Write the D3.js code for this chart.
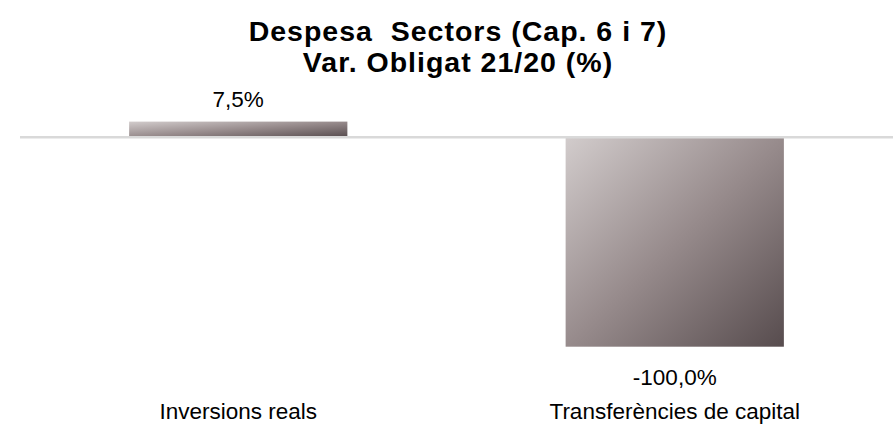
<!DOCTYPE html>
<html>
<head>
<meta charset="utf-8">
<script src="https://cdn.jsdelivr.net/npm/d3@7"></script>
<style>
  body { margin: 0; background: #fff; }
  svg { display: block; font-family: "Liberation Sans", Arial, sans-serif; }
</style>
</head>
<body>
<svg id="chart" width="893" height="428"></svg>
<script>
"use strict";

// Chart data
var categories = ["Inversions reals", "Transferències de capital"];
var values = [7.5, -100.0];
var title_lines = ["Despesa  Sectors (Cap. 6 i 7)", "Var. Obligat 21/20 (%)"];

var svg = d3.select("#chart");

// Gradient used by the bars (light top-left to dark bottom-right)
var defs = svg.append("defs");
var grad = defs.append("linearGradient")
    .attr("id", "bar-grad")
    .attr("x1", 0).attr("y1", 0)
    .attr("x2", 1).attr("y2", 1);
grad.append("stop").attr("offset", "0%").attr("stop-color", "#d2cccc");
grad.append("stop").attr("offset", "50%").attr("stop-color", "#978b8c");
grad.append("stop").attr("offset", "100%").attr("stop-color", "#574c4e");

var x = d3.scaleBand()
    .domain(categories)
    .range([20, 893])
    .paddingInner(0.5)
    .paddingOuter(0.25);

var y = d3.scaleLinear()
    .domain([-100, 0])
    .range([346.7, 137.3]);

// Title: one text block, two lines (keeps the double space of the original)
var title_x = 458;
svg.append("text")
    .attr("x", title_x)
    .attr("y", 41)
    .attr("text-anchor", "middle")
    .style("font-size", "28.5px")
    .style("font-weight", "bold")
    .style("letter-spacing", "1px")
    .style("white-space", "pre")
    .attr("fill", "#000")
    .selectAll("tspan")
    .data(title_lines)
    .join("tspan")
    .attr("x", title_x)
    .attr("dy", function(d, i) { return i === 0 ? 0 : 31; })
    .text(function(d) { return d; });

var data = categories.map(function(c, i) { return { cat: c, value: values[i] }; });

// Bars
svg.append("g").selectAll("rect")
    .data(data)
    .join("rect")
    .attr("x", function(d) { return x(d.cat); })
    .attr("width", x.bandwidth())
    .attr("y", function(d) { return y(Math.max(0, d.value)); })
    .attr("height", function(d) { return Math.abs(y(d.value) - y(0)); })
    .attr("fill", "url(#bar-grad)");

// Zero line
svg.append("line")
    .attr("x1", 20).attr("x2", 893)
    .attr("y1", y(0)).attr("y2", y(0))
    .attr("stroke", "#d9d9d9")
    .attr("stroke-width", 2.5);

// Value labels, catalan style decimal comma and plain hyphen
var fmt = function(v) {
    return d3.format(".1f")(v).replace("\u2212", "-").replace(".", ",") + "%";
};
svg.append("g").selectAll("text")
    .data(data)
    .join("text")
    .attr("x", function(d) { return x(d.cat) + x.bandwidth() / 2; })
    .attr("y", function(d) { return d.value >= 0 ? y(d.value) - 15 : y(d.value) + 38; })
    .attr("text-anchor", "middle")
    .style("font-size", "22.5px")
    .attr("fill", "#000")
    .text(function(d) { return fmt(d.value); });

// Category labels
svg.append("g").selectAll("text")
    .data(categories)
    .join("text")
    .attr("x", function(d) { return x(d) + x.bandwidth() / 2; })
    .attr("y", 419)
    .attr("text-anchor", "middle")
    .style("font-size", "22.5px")
    .attr("fill", "#000")
    .text(function(d) { return d; });
</script>
</body>
</html>
